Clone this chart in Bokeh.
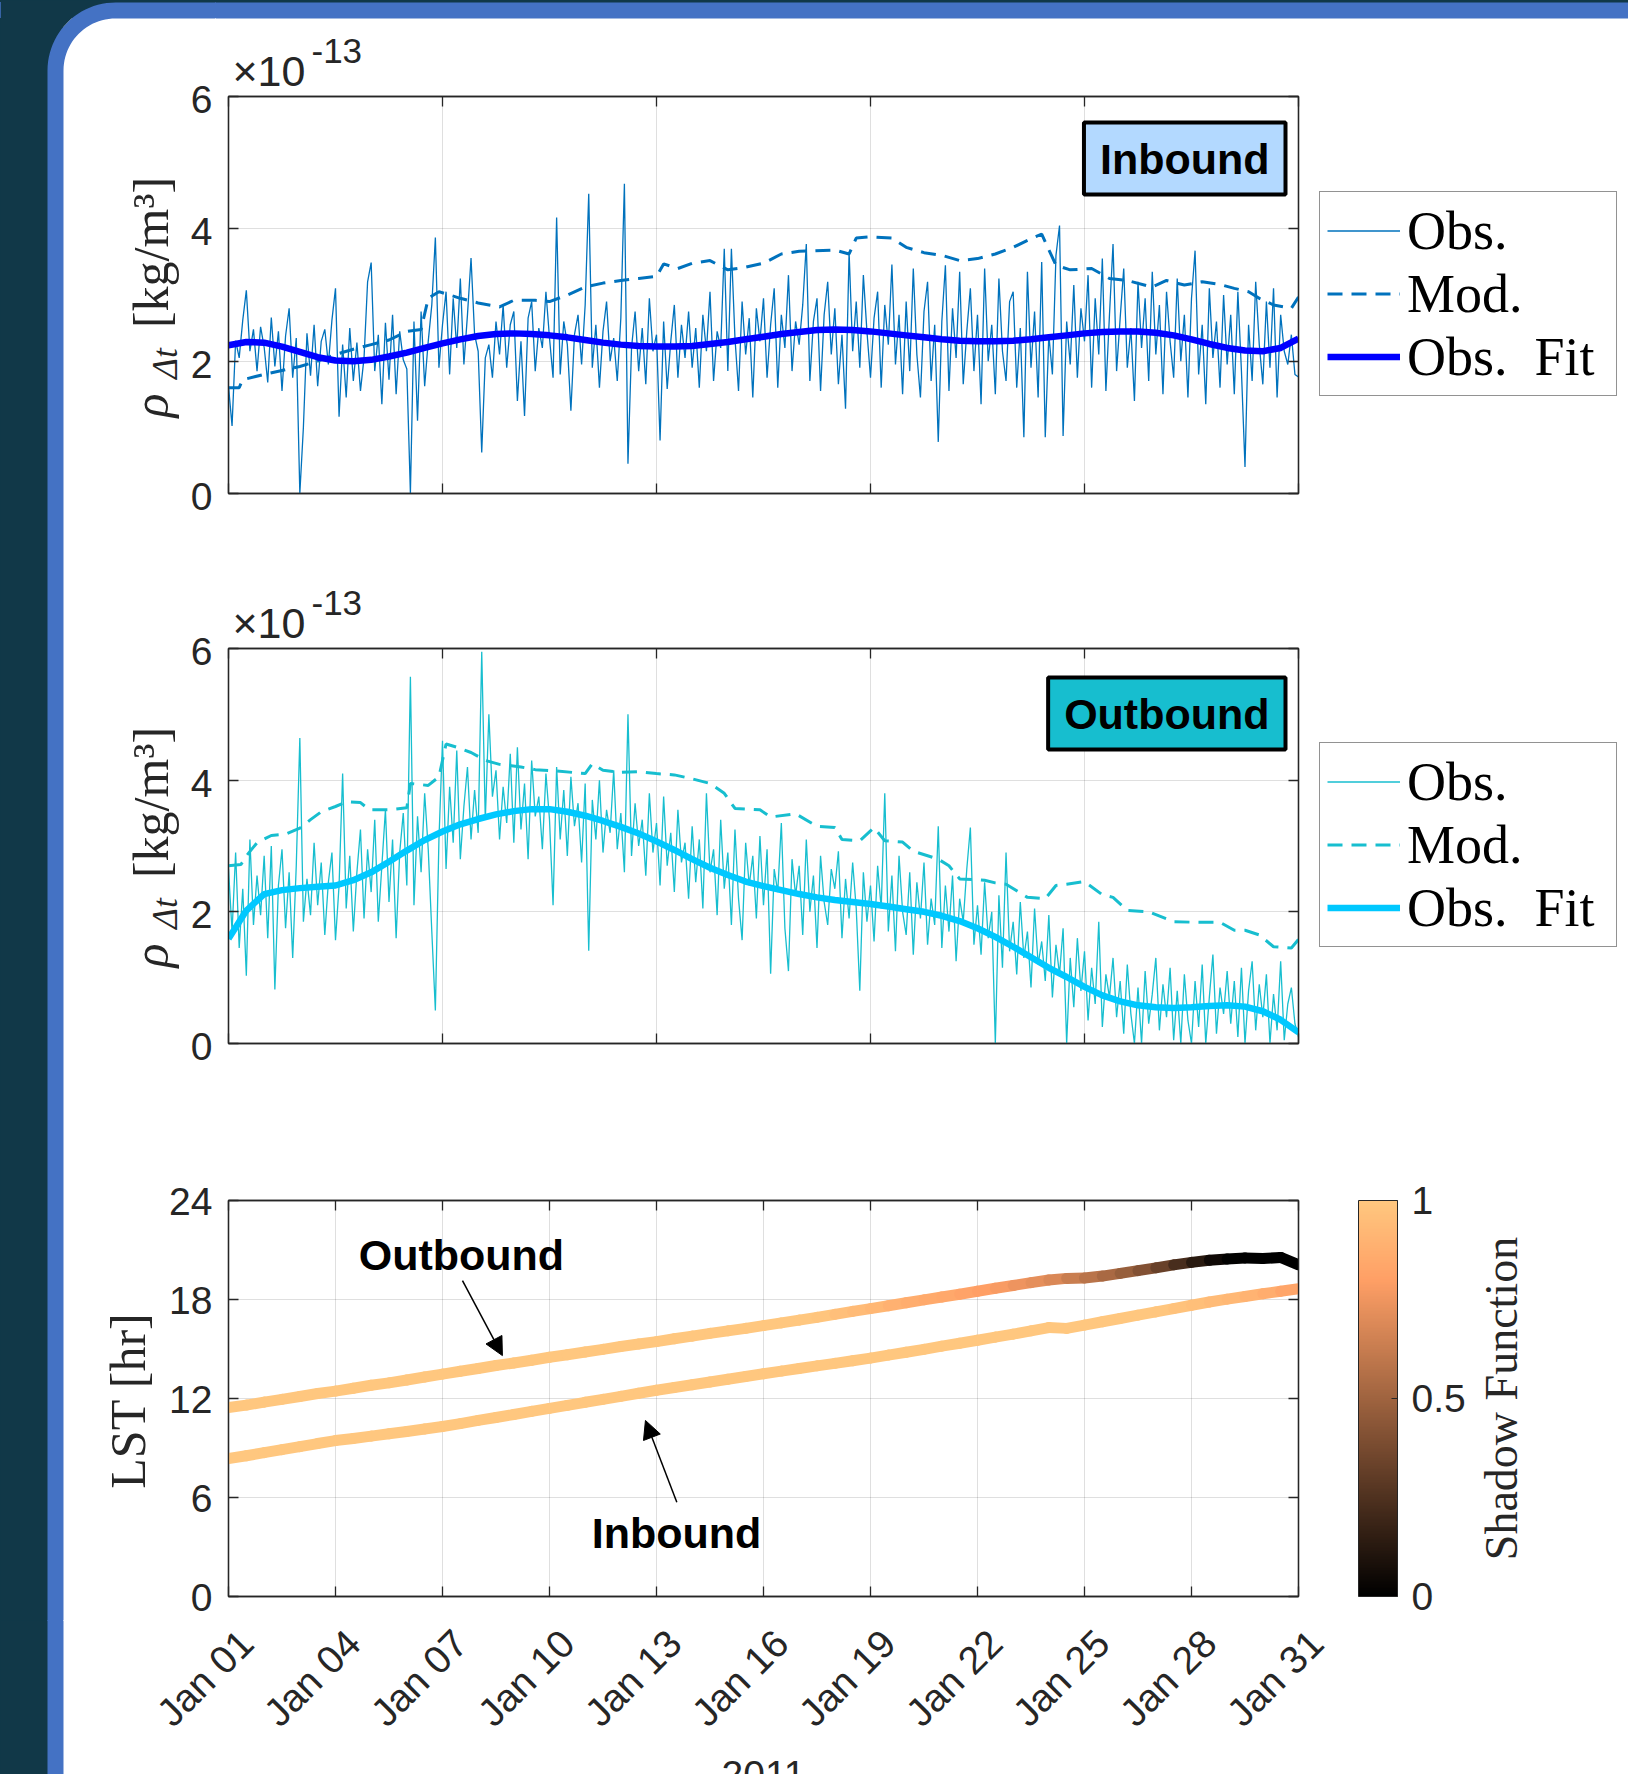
import math
from bokeh.plotting import figure
from bokeh.layouts import column, row
from bokeh.models import (Label, Legend, LegendItem, FixedTicker, LinearAxis, Range1d,
                          ColorBar, LinearColorMapper, Arrow, NormalHead, ColumnDataSource)
from bokeh.transform import linear_cmap
from bokeh.embed import file_html
from bokeh.resources import INLINE

# ------------------------------------------------------------------ data
obs_step_days = 0.1   # observation sampling (days since Jan 01)

inbound_obs = [
    1.62, 1.02, 2.31, 2.05, 2.62, 3.07, 2.15, 2.48, 1.85, 2.52,
    2.21, 1.68, 2.66, 1.92, 2.45, 1.55, 2.38, 2.80, 1.75, 2.35,
    0.00, 1.00, 2.42, 1.78, 2.55, 1.62, 2.30, 2.48, 1.95, 2.62,
    3.10, 1.16, 2.25, 1.45, 2.50, 1.70, 2.28, 1.55, 2.05, 3.20,
    3.49, 1.85, 2.40, 1.35, 2.58, 1.72, 2.70, 1.50, 2.45, 2.02,
    1.88, 0.00, 2.60, 1.10, 2.75, 1.62, 2.30, 2.85, 3.87, 1.90,
    2.55, 3.05, 1.80, 2.95, 2.20, 3.25, 1.95, 2.70, 3.56, 2.40,
    2.15, 0.62, 2.05, 2.25, 1.75, 2.60, 2.10, 2.85, 1.90, 2.55,
    2.75, 1.40, 2.30, 1.17, 2.65, 2.90, 1.85, 2.50, 2.20, 3.05,
    2.35, 1.75, 4.17, 1.80, 2.60, 2.25, 1.25, 2.40, 2.70, 1.95,
    2.85, 4.53, 1.90, 2.55, 1.60, 2.45, 2.90, 2.00, 2.35, 1.70,
    2.65, 4.68, 0.45, 2.20, 2.75, 1.85, 2.50, 1.65, 2.95, 2.15,
    2.40, 0.80, 2.60, 1.58, 2.30, 2.85, 1.75, 2.55, 2.05, 2.75,
    1.90, 2.50, 1.60, 2.70, 2.15, 3.05, 1.70, 2.45, 2.20, 3.70,
    1.85, 3.70, 2.35, 1.55, 2.90, 2.10, 2.65, 1.45, 2.80, 2.30,
    2.95, 1.75, 2.55, 3.10, 1.60, 2.70, 2.20, 3.30, 1.85, 2.60,
    2.25, 2.85, 3.77, 1.70, 2.60, 2.95, 1.55, 2.70, 3.20, 2.10,
    2.80, 1.65, 2.40, 1.28, 3.65, 2.15, 2.90, 1.90, 3.30, 2.45,
    1.75, 2.65, 3.05, 1.60, 2.85, 2.25, 3.46, 1.95, 2.70, 1.50,
    2.90, 1.85, 3.40, 2.10, 1.45, 2.75, 3.20, 1.70, 2.55, 0.78,
    2.60, 3.45, 1.55, 2.80, 2.05, 3.35, 1.65, 2.45, 3.10, 1.85,
    2.70, 1.35, 3.40, 2.00, 2.55, 1.50, 3.25, 2.15, 1.70, 2.90,
    3.05, 1.60, 2.50, 0.85, 3.35, 1.90, 2.75, 1.45, 3.50, 0.85,
    2.40, 1.80, 3.60, 4.05, 0.87, 2.60, 1.95, 3.15, 1.75, 2.80,
    2.30, 3.30, 1.60, 2.95, 2.10, 3.55, 1.55, 2.70, 3.77, 1.85,
    2.65, 3.40, 1.90, 2.50, 1.40, 3.20, 2.20, 2.95, 1.70, 3.35,
    2.10, 2.85, 1.50, 3.05, 2.30, 1.75, 3.25, 2.00, 2.70, 1.45,
    2.95, 3.67, 1.80, 2.55, 1.35, 3.10, 2.05, 2.60, 1.60, 3.00,
    1.95, 2.70, 1.50, 3.05, 1.85, 0.40, 2.55, 1.70, 3.20, 2.25,
    1.65, 2.90, 1.90, 3.10, 1.45, 2.70, 2.15, 1.95, 2.40, 1.80,
    1.76]

inbound_mod_days = [
    0.0, 0.3, 0.4, 1.0, 1.5, 2.0, 2.5, 3.0, 3.5, 4.0,
    4.5, 5.0, 5.4, 5.6, 5.9, 6.5, 7.0, 7.6, 8.0, 8.6,
    9.0, 9.5, 10.0, 10.5, 11.0, 11.5, 12.0, 12.2, 12.6, 13.0,
    13.5, 14.0, 14.5, 15.0, 15.5, 16.0, 17.0, 17.4, 17.6, 18.0,
    18.6, 19.0, 19.5, 20.0, 20.5, 21.0, 21.5, 22.0, 22.5, 22.8,
    23.2, 23.6, 24.2, 24.7, 25.2, 25.9, 26.3, 26.8, 27.3, 27.8,
    28.2, 28.6, 28.9, 29.3, 29.8, 30.0]
inbound_mod = [
    1.60, 1.60, 1.72, 1.80, 1.86, 1.92, 2.00, 2.10, 2.18, 2.25,
    2.32, 2.45, 2.48, 2.95, 3.05, 2.95, 2.88, 2.82, 2.92, 2.92,
    2.90, 3.00, 3.12, 3.18, 3.22, 3.25, 3.28, 3.47, 3.40, 3.48,
    3.52, 3.38, 3.42, 3.48, 3.62, 3.66, 3.68, 3.62, 3.86, 3.88,
    3.86, 3.72, 3.64, 3.60, 3.52, 3.55, 3.62, 3.72, 3.85, 3.92,
    3.45, 3.38, 3.40, 3.25, 3.22, 3.12, 3.22, 3.15, 3.20, 3.16,
    3.10, 3.05, 2.95, 2.85, 2.80, 2.97]

fit_step_days = 0.5
inbound_fit = [
    2.24, 2.29, 2.28, 2.22, 2.14, 2.06, 2.01, 2.00, 2.02, 2.07,
    2.13, 2.20, 2.27, 2.33, 2.38, 2.41, 2.42, 2.41, 2.39, 2.36,
    2.32, 2.28, 2.25, 2.23, 2.22, 2.22, 2.23, 2.26, 2.29, 2.33,
    2.37, 2.41, 2.44, 2.47, 2.48, 2.47, 2.45, 2.42, 2.39, 2.36,
    2.33, 2.31, 2.30, 2.30, 2.31, 2.33, 2.36, 2.39, 2.42, 2.44,
    2.45, 2.45, 2.43, 2.39, 2.33, 2.26, 2.20, 2.16, 2.15, 2.20,
    2.34]

outbound_obs = [
    2.65, 1.70, 2.90, 1.45, 2.35, 1.03, 3.10, 1.80, 2.55, 1.95,
    2.85, 1.60, 3.00, 0.82, 2.40, 2.95, 1.75, 2.60, 1.30, 2.70,
    4.64, 1.85, 2.50, 1.95, 3.05, 2.10, 2.75, 1.65, 2.45, 2.90,
    1.57, 2.40, 4.10, 2.05, 2.85, 1.70, 2.60, 3.25, 1.90, 2.95,
    2.30, 3.40, 1.85, 2.70, 3.55, 2.15, 3.10, 1.60, 2.90, 3.50,
    2.40, 5.57, 2.10, 3.45, 2.60, 3.80, 2.95, 1.70, 0.50, 3.10,
    4.60, 2.65, 3.90, 3.05, 4.45, 2.80, 3.60, 4.20, 3.10, 3.85,
    3.20, 5.95, 3.40, 5.00, 3.75, 4.15, 3.10, 3.90, 3.35, 4.40,
    3.05, 4.50, 3.25, 3.95, 2.80, 4.30, 3.45, 3.75, 2.95, 4.10,
    3.40, 2.10, 4.20, 3.10, 3.85, 2.85, 4.05, 3.30, 3.65, 2.75,
    3.95, 1.41, 3.70, 3.10, 4.00, 2.90, 3.55, 3.20, 4.15, 2.95,
    3.50, 2.60, 5.00, 2.85, 3.65, 3.00, 3.40, 2.55, 3.80, 2.90,
    3.35, 2.40, 3.75, 2.70, 3.20, 2.30, 3.55, 2.75, 3.05, 2.20,
    3.30, 2.45, 3.10, 2.05, 3.80, 2.60, 2.95, 1.95, 3.40, 2.35,
    2.90, 1.80, 3.25, 2.20, 1.57, 3.05, 2.40, 2.85, 1.90, 3.15,
    2.10, 2.95, 1.06, 2.65, 2.30, 3.35, 1.75, 1.10, 2.80, 2.25,
    2.70, 1.65, 3.10, 2.00, 2.55, 1.45, 2.85, 2.15, 1.80, 2.65,
    2.35, 2.92, 1.60, 2.50, 1.90, 2.75, 2.05, 0.80, 2.60, 1.85,
    2.40, 1.55, 2.70, 2.05, 3.80, 1.70, 2.55, 1.40, 2.85, 2.00,
    1.65, 2.60, 1.35, 2.45, 1.90, 2.75, 1.50, 2.20, 1.80, 3.30,
    1.45, 2.40, 1.70, 2.55, 1.25, 2.20, 1.85, 2.65, 3.28, 1.50,
    2.10, 1.35, 2.45, 1.60, 2.00, 0.00, 2.25, 1.15, 2.90, 1.40,
    1.85, 1.05, 2.15, 1.30, 1.70, 0.85, 2.05, 1.20, 1.55, 0.95,
    1.95, 0.70, 1.50, 1.05, 1.75, 0.00, 1.30, 0.55, 1.60, 0.80,
    1.40, 0.35, 1.15, 0.60, 1.85, 0.25, 1.05, 0.70, 1.30, 0.40,
    0.95, 0.15, 1.20, 0.45, 0.00, 0.85, 0.00, 1.10, 0.30, 0.75,
    1.30, 0.20, 0.90, 0.40, 1.15, 0.05, 0.80, 0.00, 1.05, 0.35,
    0.00, 0.95, 0.25, 1.20, 0.00, 0.70, 1.35, 0.15, 0.85, 0.45,
    1.10, 0.30, 0.95, 0.10, 1.15, 0.00, 0.80, 1.25, 0.20, 0.90,
    0.40, 1.05, 0.00, 0.75, 0.20, 1.25, 0.05, 0.60, 0.85, 0.30,
    0.10]

outbound_mod_days = [
    0.0, 0.35, 0.5, 0.8, 1.2, 1.6, 2.0, 2.3, 2.6, 3.0,
    3.3, 3.7, 3.95, 4.5, 5.0, 5.1, 5.6, 5.9, 6.1, 6.4,
    6.8, 7.2, 7.6, 8.2, 8.6, 9.2, 10.0, 10.2, 10.5, 11.0,
    11.5, 12.0, 12.5, 13.0, 13.5, 13.9, 14.2, 14.9, 15.2, 15.9,
    16.5, 17.0, 17.2, 17.7, 18.1, 18.4, 18.9, 19.2, 19.9, 20.2,
    20.5, 21.2, 21.5, 21.8, 22.4, 22.9, 23.2, 23.5, 24.0, 24.5,
    24.8, 25.2, 25.8, 26.5, 27.2, 27.8, 28.2, 28.5, 28.9, 29.3,
    29.8, 30.0]
outbound_mod = [
    2.70, 2.72, 2.85, 3.05, 3.16, 3.18, 3.27, 3.40, 3.52, 3.60,
    3.67, 3.66, 3.55, 3.55, 3.58, 3.95, 3.92, 4.05, 4.55, 4.50,
    4.42, 4.30, 4.24, 4.20, 4.16, 4.14, 4.10, 4.25, 4.15, 4.12,
    4.13, 4.10, 4.08, 4.02, 3.95, 3.80, 3.57, 3.55, 3.44, 3.49,
    3.30, 3.28, 3.10, 3.08, 3.28, 3.08, 3.06, 2.92, 2.80, 2.70,
    2.50, 2.48, 2.44, 2.42, 2.22, 2.20, 2.40, 2.42, 2.46, 2.26,
    2.22, 2.02, 2.00, 1.85, 1.84, 1.84, 1.72, 1.72, 1.65, 1.47,
    1.45, 1.58]

outbound_fit = [
    1.59, 2.02, 2.27, 2.33, 2.36, 2.38, 2.40, 2.48, 2.60, 2.76,
    2.93, 3.09, 3.22, 3.33, 3.41, 3.48, 3.53, 3.56, 3.56, 3.52,
    3.46, 3.38, 3.29, 3.19, 3.07, 2.94, 2.80, 2.67, 2.56, 2.46,
    2.39, 2.33, 2.27, 2.22, 2.18, 2.15, 2.12, 2.08, 2.04, 2.00,
    1.94, 1.86, 1.75, 1.62, 1.47, 1.31, 1.15, 1.01, 0.86, 0.73,
    0.64, 0.58, 0.55, 0.54, 0.55, 0.57, 0.58, 0.56, 0.49, 0.36,
    0.17]

lst_step_days = 0.5
lst_outbound = [
    11.45, 11.60, 11.78, 11.95, 12.12, 12.30, 12.45, 12.62, 12.80, 12.95,
    13.12, 13.30, 13.48, 13.65, 13.82, 14.00, 14.15, 14.32, 14.50, 14.65,
    14.82, 14.98, 15.15, 15.30, 15.45, 15.62, 15.78, 15.95, 16.10, 16.25,
    16.42, 16.58, 16.75, 16.92, 17.10, 17.28, 17.45, 17.62, 17.80, 17.98,
    18.15, 18.32, 18.50, 18.68, 18.85, 19.02, 19.18, 19.28, 19.30, 19.42,
    19.58, 19.75, 19.92, 20.10, 20.25, 20.38, 20.45, 20.52, 20.48, 20.55,
    20.10]
shadow_outbound = [
    1.00, 1.00, 1.00, 1.00, 1.00, 1.00, 1.00, 1.00, 1.00, 1.00,
    1.00, 1.00, 1.00, 1.00, 1.00, 1.00, 1.00, 1.00, 1.00, 1.00,
    1.00, 1.00, 1.00, 1.00, 1.00, 1.00, 1.00, 1.00, 1.00, 1.00,
    1.00, 1.00, 1.00, 1.00, 0.97, 0.95, 0.93, 0.90, 0.88, 0.86,
    0.85, 0.83, 0.81, 0.79, 0.76, 0.73, 0.70, 0.66, 0.60, 0.56,
    0.50, 0.45, 0.37, 0.28, 0.18, 0.08, 0.02, 0.00, 0.00, 0.00,
    0.00]
lst_inbound = [
    8.36, 8.53, 8.72, 8.90, 9.08, 9.27, 9.45, 9.58, 9.72, 9.86,
    10.00, 10.15, 10.30, 10.48, 10.67, 10.85, 11.03, 11.22, 11.40, 11.58,
    11.77, 11.95, 12.13, 12.32, 12.50, 12.67, 12.83, 13.00, 13.17, 13.33,
    13.50, 13.66, 13.82, 13.98, 14.13, 14.29, 14.45, 14.63, 14.80, 14.98,
    15.17, 15.35, 15.53, 15.72, 15.90, 16.10, 16.30, 16.25, 16.45, 16.65,
    16.85, 17.05, 17.25, 17.45, 17.65, 17.85, 18.02, 18.18, 18.35, 18.50,
    18.65]
shadow_inbound = [
    1.00, 1.00, 1.00, 1.00, 1.00, 1.00, 1.00, 1.00, 1.00, 1.00,
    1.00, 1.00, 1.00, 1.00, 1.00, 1.00, 1.00, 1.00, 1.00, 1.00,
    1.00, 1.00, 1.00, 1.00, 1.00, 1.00, 1.00, 1.00, 1.00, 1.00,
    1.00, 1.00, 1.00, 1.00, 1.00, 1.00, 1.00, 1.00, 1.00, 1.00,
    1.00, 1.00, 1.00, 1.00, 1.00, 1.00, 1.00, 1.00, 1.00, 1.00,
    1.00, 1.00, 1.00, 0.98, 0.96, 0.95, 0.93, 0.91, 0.88, 0.85,
    0.80]

top_ticks = [0, 6, 12, 18, 24, 30]
bottom_ticks = [0, 3, 6, 9, 12, 15, 18, 21, 24, 27, 30]
bottom_tick_labels = ["Jan 01", "Jan 04", "Jan 07", "Jan 10", "Jan 13", "Jan 16",
                      "Jan 19", "Jan 22", "Jan 25", "Jan 28", "Jan 31"]
x_end_days = 30
rho_ticks = [0, 2, 4, 6]
rho_tick_labels = ["0", "2", "4", "6"]
lst_ticks = [0, 6, 12, 18, 24]
lst_tick_labels = ["0", "6", "12", "18", "24"]
shadow_ticks = [0, 0.5, 1]
shadow_tick_labels = ["0", "0.5", "1"]

# ------------------------------------------------------------------ style / layout
TXT = "#262626"
SANS = "Liberation Sans"
SERIF = "Liberation Serif"
DARK = "#113848"
BLUE = "#4472C4"
C_IN = "#0072BD"
C_IN_FIT = "#0000FF"
C_OUT = "#17BECF"
C_OUT_FIT = "#00C8FF"
W = 1628            # page width used
H = 1774            # page height used
LW = 215            # left band width
FL = 228            # frame left
FW = 1070           # frame width
PBL = FL - LW       # main plots' left border
RCW = W - LW        # right column width
T1H, T2H = 94, 63
P1 = dict(bt=2, fh=397, bb=90)
P2 = dict(bt=2, fh=395, bb=133)
P3 = dict(bt=24, fh=396, bb=24)
Y_P1 = T1H
Y_P2 = Y_P1 + sum(P1.values()) + T2H
Y_P3 = Y_P2 + sum(P2.values())
LH = Y_P3 + sum(P3.values())
FT1, FT2, FT3 = Y_P1 + P1["bt"], Y_P2 + P2["bt"], Y_P3 + P3["bt"]   # frame tops

copper = []
for i in range(256):
    f = i / 255.0
    copper.append("#%02x%02x%02x" % (round(min(1.0, 1.25 * f) * 255),
                                      round(0.7812 * f * 255),
                                      round(0.4975 * f * 255)))

# background card (page px): dark side, blue rounded frame
_n = 24
_outer = [(115 - 68 * math.cos(math.pi / 2 * k / _n), 70 - 68 * math.sin(math.pi / 2 * k / _n))
          for k in range(_n + 1)]
_inner = [(115 - 52 * math.cos(math.pi / 2 * (1 - k / _n)), 70 - 52 * math.sin(math.pi / 2 * (1 - k / _n)))
          for k in range(_n + 1)]
blue_shape = [(47, H)] + _outer + [(W, 2), (W, 18)] + _inner + [(63, H)]
dark_shape = [(0, 0), (W, 0), (W, 2)] + _outer[::-1] + [(47, H), (0, H)]
card_css = (f"linear-gradient(to bottom, {DARK} 0px, {DARK} 2px, {BLUE} 2px, {BLUE} 18px, "
            f"rgba(255,255,255,0) 18px) 0 0 / 100% 18px no-repeat, "
            f"linear-gradient(to right, {DARK} 0px, {DARK} 47px, {BLUE} 47px, {BLUE} 63px, "
            f"#ffffff 63px) 0 0 / 100% 100% no-repeat")


def no_align(p):
    try:
        p.frame_align = False
    except Exception:
        pass


def helper(x0, y0, w, h, bt=0, bb=0, xr=None, fx=None, decor=True):
    """Plain transparent figure whose frame covers page region (x0, y0, w, h), in page px."""
    p = figure(frame_width=w, frame_height=h, min_border_left=0, min_border_right=0,
               min_border_top=bt, min_border_bottom=bb,
               x_range=xr if xr is not None else Range1d(x0, x0 + w),
               y_range=Range1d(y0 + h, y0),
               x_axis_location=None, y_axis_location=None,
               toolbar_location=None, tools="", output_backend="svg")
    no_align(p)
    p.outline_line_color = None
    p.background_fill_alpha = 0
    p.border_fill_alpha = 0
    p.grid.visible = False
    if decor:
        conv = fx if fx is not None else (lambda v: v)
        for shape, col in ((blue_shape, BLUE), (dark_shape, DARK)):
            p.patch([conv(a) for a, b in shape], [b for a, b in shape],
                    fill_color=col, fill_alpha=1.0, line_color=None)
    return p


def hlabel(p, x, y, text, size, font, **kw):
    p.add_layout(Label(x=x, y=y, text=text, text_font=font, text_font_size=size,
                       text_color=TXT, **kw))


def style_axis(ax, ticker):
    ax.ticker = ticker
    ax.major_tick_in = 10
    ax.major_tick_out = 0
    ax.minor_tick_line_color = None
    ax.axis_line_color = TXT
    ax.axis_line_width = 1.3
    ax.major_tick_line_color = TXT
    ax.major_tick_line_width = 1.3
    ax.major_label_text_font = SANS
    ax.major_label_text_font_size = "0px"
    ax.major_label_text_color = None
    ax.major_label_standoff = 0


def make_fig(g, br, yend, xticks, yticks):
    p = figure(frame_width=FW, frame_height=g["fh"], min_border_left=PBL, min_border_right=br,
               min_border_top=g["bt"], min_border_bottom=g["bb"],
               x_range=Range1d(0, x_end_days), y_range=Range1d(0, yend),
               output_backend="svg", toolbar_location=None, tools="")
    no_align(p)
    p.background_fill_color = "white"
    p.border_fill_color = "white"
    p.outline_line_color = TXT
    p.outline_line_width = 1.3
    xt = FixedTicker(ticks=xticks)
    yt = FixedTicker(ticks=yticks)
    style_axis(p.xaxis[0], xt)
    style_axis(p.yaxis[0], yt)
    top = LinearAxis()
    style_axis(top, xt)
    p.add_layout(top, "above")
    right = LinearAxis()
    style_axis(right, yt)
    p.add_layout(right, "right")
    p.xgrid.ticker = xt
    p.ygrid.ticker = yt
    p.grid.grid_line_color = TXT
    p.grid.grid_line_alpha = 0.15
    p.grid.grid_line_width = 1
    return p


def tag(p, text, x, y, fill):
    kw = dict(x=x, y=y, x_units="screen", y_units="screen", text=text, text_font=SANS,
              text_font_size="43px", text_font_style="bold", text_color="black",
              text_align="right", text_baseline="top", background_fill_color=fill,
              background_fill_alpha=1.0, border_line_color="black", border_line_width=4)
    try:
        lab = Label(padding={"x": 16, "y": 12}, **kw)
    except Exception:
        lab = Label(padding=14, **kw)
    p.add_layout(lab)


def rho_panel(g, obs, mod_days, mod, fit, c, cfit, tagtext, tagfill, tag_y, frame_top, leg_y):
    p = make_fig(g, 2, 6, top_ticks, rho_ticks)
    obs_days = [i * obs_step_days for i in range(len(obs))]
    fit_days = [i * fit_step_days for i in range(len(fit))]
    p.line(obs_days, obs, line_color=c, line_width=1.3)
    p.line(mod_days, mod, line_color=c, line_width=3, line_dash="15 9")
    p.line(fit_days, fit, line_color=cfit, line_width=6.5)
    tag(p, tagtext, 1057, tag_y, tagfill)
    # legend panel to the right of the frame (legend keys drawn off-screen)
    rx = LW + PBL + FW + 2
    r = helper(rx, frame_top, W - rx, g["fh"], bt=g["bt"], bb=g["bb"], decor=False)
    kx, ky = [0, 1], [0, 0]
    d_obs = r.line(kx, ky, line_color=c, line_width=1.3)
    d_mod = r.line(kx, ky, line_color=c, line_width=3, line_dash="15 9")
    d_fit = r.line(kx, ky, line_color=cfit, line_width=6.5)
    leg = Legend(items=[LegendItem(label="Obs.", renderers=[d_obs]),
                        LegendItem(label="Mod.", renderers=[d_mod]),
                        LegendItem(label="Obs.  Fit", renderers=[d_fit])],
                 location=(19, leg_y), orientation="vertical",
                 label_text_font=SERIF, label_text_font_size="54px", label_text_color="black",
                 glyph_width=73, glyph_height=63, label_height=63, label_width=202,
                 label_standoff=7, padding=7, spacing=0, margin=0,
                 border_line_color=TXT, border_line_width=1.5,
                 background_fill_color="white", background_fill_alpha=1.0)
    r.add_layout(leg)
    return p, r


def exponent(p, y_mid):
    hlabel(p, 232, y_mid, "×10", "43px", SANS, text_align="left", text_baseline="middle")
    hlabel(p, 311, y_mid - 20, "-13", "35px", SANS, text_align="left", text_baseline="middle")


# ---- left band: card corner, side strips, axis titles and y tick labels
L = helper(0, 0, LW, LH)


def y_ticklabels(frame_top, fh, yend, ticks, labels, shift):
    for v, s in zip(ticks, labels):
        hlabel(L, 212, frame_top + (yend - v) / yend * fh + shift, s, "39px", SANS,
               text_align="right", text_baseline="middle")


def rho_ylabel(frame_bottom):
    hlabel(L, 150, frame_bottom - 88, "ρ", "50px", SERIF, angle=math.pi / 2,
           text_align="center", text_baseline="middle", text_font_style="italic")
    hlabel(L, 165, frame_bottom - 130, "Δt", "35px", SERIF, angle=math.pi / 2,
           text_align="center", text_baseline="middle", text_font_style="italic")
    hlabel(L, 150, frame_bottom - 241, "[kg/m³]", "50px", SERIF, angle=math.pi / 2,
           text_align="center", text_baseline="middle")


y_ticklabels(FT1, P1["fh"], 6, rho_ticks, rho_tick_labels, 3)
y_ticklabels(FT2, P2["fh"], 6, rho_ticks, rho_tick_labels, 3)
y_ticklabels(FT3, P3["fh"], 24, lst_ticks, lst_tick_labels, 1)
rho_ylabel(FT1 + P1["fh"])
rho_ylabel(FT2 + P2["fh"])
hlabel(L, 127, FT3 + P3["fh"] / 2 + 2, "LST [hr]", "50px", SERIF, angle=math.pi / 2,
       text_align="center", text_baseline="middle")

# ---- top band (exponent of panel 1) and band between panels 1 and 2
T1 = helper(LW, 0, RCW, T1H)
exponent(T1, 70)
T2 = helper(LW, Y_P1 + sum(P1.values()), RCW, T2H)
exponent(T2, FT2 - 26)

# ---- panel 1 : inbound density ; panel 2 : outbound density
P1f, R1f = rho_panel(P1, inbound_obs, inbound_mod_days, inbound_mod, inbound_fit,
                     C_IN, C_IN_FIT, "Inbound", "#B3D9FF", 371, FT1, 97)
P2f, R2f = rho_panel(P2, outbound_obs, outbound_mod_days, outbound_mod, outbound_fit,
                     C_OUT, C_OUT_FIT, "Outbound", "#17BECF", 366, FT2, 96)

# ---- panel 3 : local solar time coloured by shadow function
P3f = make_fig(P3, 178, 24, bottom_ticks, lst_ticks)
lst_days = [i * lst_step_days for i in range(len(lst_outbound))]
for lst, sh in ((lst_inbound, shadow_inbound), (lst_outbound, shadow_outbound)):
    src = ColumnDataSource(dict(x0=lst_days[:-1], x1=lst_days[1:], y0=lst[:-1], y1=lst[1:],
                                s=[(a + b) / 2 for a, b in zip(sh[:-1], sh[1:])]))
    P3f.segment("x0", "y0", "x1", "y1", source=src, line_width=11, line_cap="round",
                line_color=linear_cmap("s", copper, 0, 1))
P3f.add_layout(Label(x=6.53, y=20.67, text="Outbound", text_align="center",
                     text_baseline="middle", text_font=SANS, text_font_size="43px",
                     text_font_style="bold", text_color="black"))
P3f.add_layout(Label(x=12.56, y=3.85, text="Inbound", text_align="center",
                     text_baseline="middle", text_font=SANS, text_font_size="43px",
                     text_font_style="bold", text_color="black"))
P3f.add_layout(Arrow(end=NormalHead(size=18, fill_color="black", line_color="black"),
                     x_start=6.56, y_start=19.15, x_end=7.68, y_end=14.6,
                     line_color="black", line_width=1.5))
P3f.add_layout(Arrow(end=NormalHead(size=18, fill_color="black", line_color="black"),
                     x_start=12.57, y_start=5.71, x_end=11.69, y_end=10.67,
                     line_color="black", line_width=1.5))
mapper = LinearColorMapper(palette=copper, low=0, high=1)
cb = ColorBar(color_mapper=mapper, ticker=FixedTicker(ticks=shadow_ticks),
              major_label_overrides=dict(zip(shadow_ticks, shadow_tick_labels)),
              width=39, height=P3["fh"], location=(1130, 0), padding=0, margin=0,
              label_standoff=14, major_label_text_font=SANS, major_label_text_font_size="39px",
              major_label_text_color=TXT, bar_line_color=TXT, bar_line_width=1,
              major_tick_line_color=TXT, major_tick_in=6, major_tick_out=0,
              minor_tick_line_color=None, background_fill_alpha=0, border_line_color=None)
P3f.add_layout(cb)
r3x = LW + PBL + FW + 178
R3f = helper(r3x, FT3, W - r3x, P3["fh"], bt=P3["bt"], bb=P3["bb"], decor=False)
hlabel(R3f, 1501, FT3 + P3["fh"] / 2, "Shadow Function", "46px", SERIF, angle=math.pi / 2,
       text_align="center", text_baseline="middle")

# ---- bottom band : date tick labels (placed on the day scale of panel 3)
day_per_px = x_end_days / FW
B3 = helper(0, LH, W, H - LH,
            xr=Range1d(-FL * day_per_px, (W - FL) * day_per_px),
            fx=lambda v: (v - FL) * day_per_px)
for t, s in zip(bottom_ticks, bottom_tick_labels):
    B3.add_layout(Label(x=t, y=FT3 + P3["fh"] + 40, x_offset=18, text=s, angle=math.pi / 4,
                        text_align="right", text_baseline="middle", text_font=SANS,
                        text_font_size="39px", text_color=TXT))
B3.add_layout(Label(x=x_end_days / 2, y=1760, text="2011", text_align="center",
                    text_baseline="top", text_font=SANS, text_font_size="39px", text_color=TXT))

right_col = column(T1, row(P1f, R1f), T2, row(P2f, R2f), row(P3f, R3f))
layout = column(row(L, right_col), B3, styles={"background": card_css})
open("out.html", "w").write(file_html(layout, INLINE))
